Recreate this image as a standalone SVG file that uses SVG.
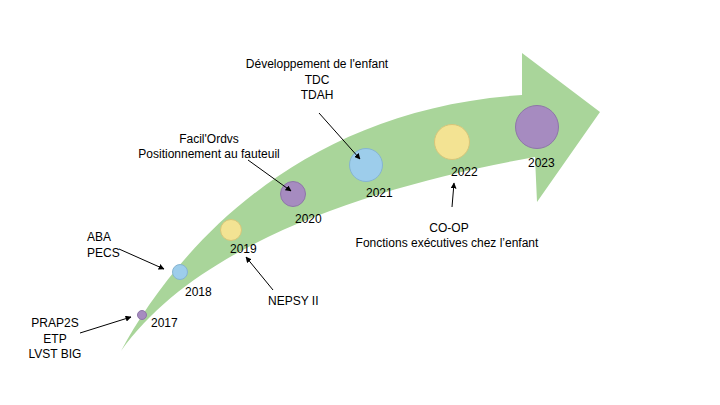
<svg xmlns="http://www.w3.org/2000/svg" width="720" height="405" viewBox="0 0 720 405">
<style>
text{font-family:"Liberation Sans",Arial,sans-serif;font-size:12px;fill:#000}
.c{text-anchor:middle}
.conn{stroke:#000;stroke-width:1;fill:none;marker-end:url(#ah)}
.pu{fill:#A68BC0;stroke:#8E76A8;stroke-width:1}
.bl{fill:#9DCDEB;stroke:#86B4D0;stroke-width:1}
.ye{fill:#F3E393;stroke:#D6C67A;stroke-width:1}
</style>
<defs>
<marker id="ah" viewBox="0 0 10 10" refX="9" refY="5" markerWidth="6" markerHeight="6" orient="auto" markerUnits="userSpaceOnUse">
<path d="M0,0 L10,5 L0,10 Z" fill="#000"/>
</marker>
</defs>
<rect width="720" height="405" fill="#fff"/>
<g id="arrow">
<path d="M121,351 C170,260 290,110 522,95 L522,53 L600,112 L537,202 L535,157 C380,185 200,240 121,351 Z" fill="#A9D59A"/>
</g>
<g id="n2017"><circle class="pu" cx="142" cy="315" r="4.5"/><text x="151" y="327">2017</text></g>
<g id="n2018"><circle class="bl" cx="180" cy="272" r="7.5"/><text x="185" y="296">2018</text></g>
<g id="n2019"><circle class="ye" cx="231" cy="230" r="10.5"/><text x="230" y="253">2019</text></g>
<g id="n2020"><circle class="pu" cx="293" cy="194" r="12.5"/><text x="295" y="223">2020</text></g>
<g id="n2021"><circle class="bl" cx="366" cy="165" r="16.5"/><text x="366" y="197">2021</text></g>
<g id="n2022"><circle class="ye" cx="452" cy="142" r="17.5"/><text x="451" y="176">2022</text></g>
<g id="n2023"><circle class="pu" cx="537" cy="127" r="21.5"/><text x="528" y="167">2023</text></g>
<g id="l2017"><text class="c" x="55" y="327">PRAP2S</text><text class="c" x="55" y="343">ETP</text><text class="c" x="55" y="358">LVST BIG</text></g>
<g id="l2018"><text x="87" y="241">ABA</text><text x="87" y="257">PECS</text></g>
<g id="l2019"><text x="268" y="305">NEPSY II</text></g>
<g id="l2020"><text class="c" x="209" y="143">Facil'Ordvs</text><text class="c" x="209" y="158">Positionnement au fauteuil</text></g>
<g id="l2021"><text class="c" x="317" y="68">Développement de l'enfant</text><text class="c" x="317" y="84">TDC</text><text class="c" x="317" y="99">TDAH</text></g>
<g id="l2022"><text class="c" x="449" y="232">CO-OP</text><text class="c" x="447" y="247">Fonctions exécutives chez l’enfant</text></g>
<g id="connectors">
<line class="conn" x1="80" y1="333" x2="131" y2="317"/>
<line class="conn" x1="119" y1="249" x2="164" y2="269"/>
<line class="conn" x1="273" y1="290" x2="246" y2="257"/>
<line class="conn" x1="248" y1="160" x2="291" y2="191"/>
<line class="conn" x1="319" y1="113" x2="360" y2="159"/>
<line class="conn" x1="452" y1="207" x2="454" y2="183"/>
</g>
</svg>
